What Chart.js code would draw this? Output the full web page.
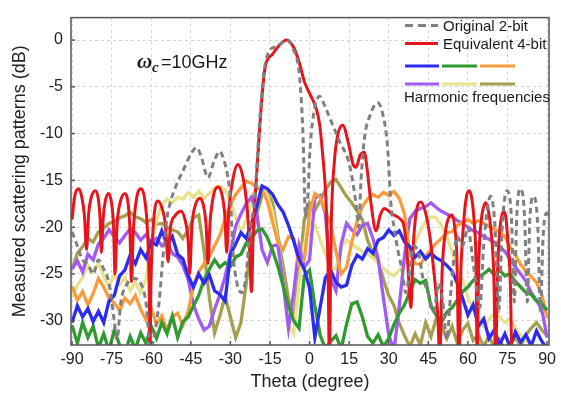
<!DOCTYPE html>
<html>
<head>
<meta charset="utf-8">
<script src="https://cdn.jsdelivr.net/npm/chart.js@4.4.0/dist/chart.umd.min.js"></script>
<style>
  html, body { margin: 0; padding: 0; background: #fff; }
</style>
</head>
<body>
<canvas id="myChart" width="561" height="397"></canvas>
<script>
    // axis ticks
    var xTicks = [-90, -75, -60, -45, -30, -15, 0, 15, 30, 45, 60, 75, 90];
    var yTicks = [0, -5, -10, -15, -20, -25, -30];

    // Original 2-bit (gray dashed)
    var grayTheta = [-90,-88,-86,-84,-82,-80,-78,-76,-74,-73,-71.5,-69,-66.5,-64,-62,-60.3,-58.5,-57,-55.5,-54,-52.8,-50.5,-48,-45,-42.8,-41,-38.5,-36,-34,-32.5,-31,-30,-29,-27.5,-25.5,-24,-22.5,-20.9,-19,-17.3,-15.1,-12.6,-10.5,-8.7,-6.5,-3.8,-2.5,-1.5,-0.5,0,1.5,3.8,6,8.2,11.3,15.1,17.6,18.6,19.5,20.8,23,25.8,27.8,29.5,30.8,32,33.5,35,36.5,37.8,39.5,41.5,43,45,47,49,50.5,52,53.5,56,58,60,61.5,63,64.5,66,68.6,70.3,71.7,73,74.8,76.5,77.6,78.5,79.9,81.5,82.5,83.5,84.9,86.5,87.5,88.5,89.8,90.7];
    var grayDb = [-20.5,-22,-23.5,-24,-25,-23.5,-24.5,-26,-30,-32,-28,-26,-25.5,-26,-28,-33,-31,-28,-23,-19,-17.4,-15.5,-14,-12.2,-11.5,-12.5,-14.7,-12.8,-11.9,-12.8,-14.6,-17,-22.7,-26,-27,-25,-20,-17.4,-9,-3.5,-1.1,-0.7,-0.3,0,-0.8,-3.9,-10,-19,-16,-12.5,-8,-6,-7.2,-8.7,-10.8,-13.3,-17.5,-20,-15,-10.5,-8,-6.7,-8,-11.2,-17.4,-20,-22.5,-24.5,-27,-25,-22,-23,-25.5,-27,-29,-26,-28,-32,-27,-21,-22,-20,-22.7,-26,-28.6,-22,-16.7,-20,-29,-20,-16.1,-19,-28,-19,-15.9,-19,-28,-19,-16.7,-20,-29,-21,-18.5,-19];

    // Equivalent 4-bit (red)
    var redTheta = [-90,-89,-87.5,-86.3,-85.3,-84.5,-83.7,-82.7,-81.2,-80.1,-79.4,-78.9,-78.2,-77.4,-76.2,-75.1,-74.3,-73.7,-73,-71.8,-69.9,-68.8,-68.1,-67.5,-66.8,-65.6,-63.8,-62.5,-61.4,-60.8,-60.5,-60.1,-59.2,-57.4,-56,-54.6,-53.6,-52.8,-51,-48.7,-47.2,-46,-45.4,-44.6,-43.2,-41.5,-40.3,-39.2,-38.5,-37.7,-36.4,-34.7,-33.3,-32.1,-31.4,-30.6,-29,-27.2,-25.6,-24,-22.9,-22,-21.3,-20.75,-18.9,-17,-14,-11.3,-8.7,-6,-3.8,-1.9,0,2.5,3.8,4.9,6.3,7,7.5,8.2,9.4,10.8,12.6,14.7,16.5,17.6,19.2,20.75,21.9,23.3,25.2,26.8,28.3,31.3,34.6,35.8,37,38.4,39.3,40.5,42.2,43.8,45.6,47.2,48.5,49.4,50.2,51.5,52.7,54.1,55,55.8,56.6,57.3,58.4,59.4,60.4,61.4,62.4,63.1,63.5,64.1,65.1,66,66.7,67.6,68.8,69.8,70.5,71.2,72.2,73,73.6,74.4,75.4,76.1,76.6];
    var redDb = [-19.2,-16.7,-15.9,-16.8,-18.8,-22.4,-18.5,-16.8,-16.1,-16.9,-19,-22.7,-19,-17.2,-16.4,-17.3,-19.8,-25,-20,-17.4,-16.4,-17.4,-20,-25.8,-20.5,-17,-15.9,-17,-20.5,-26,-34,-26,-19.8,-17.2,-17.9,-19.8,-23.7,-20.2,-18.8,-18.3,-19.2,-21.5,-25,-20,-17.6,-16.9,-17.6,-19.8,-23.9,-19.5,-16.6,-15.7,-16.4,-18.8,-22.7,-18.3,-14.8,-13.3,-14.2,-17,-21,-26.9,-20,-17.4,-9.4,-3.2,-1.5,-0.5,0,-0.8,-2.5,-4.5,-5.7,-7.3,-9,-12,-17.5,-24,-34,-20,-13,-10,-9.1,-11,-13.3,-13.6,-12.3,-12,-14,-17.5,-20.4,-18.7,-18,-18.6,-19.2,-19.9,-23,-28.6,-22,-18.3,-17.3,-18.3,-21,-25,-29,-34,-25,-20.5,-19,-18.7,-20,-23,-34,-25,-19.5,-16.8,-16.1,-16.8,-19.5,-24,-34,-24,-19.2,-17.8,-17.4,-18,-20.5,-25,-34,-25,-20,-18.6,-18.3,-19,-22.5,-26,-34];

    // harmonic frequencies, all measured on the same angle grid
    var harmTheta = [-90,-88,-86,-84,-82,-80,-78,-76,-74,-72,-70,-68,-66,-64,-62,-60,-58,-56,-54,-52,-50,-48,-46,-44,-42,-40,-38,-36,-34,-32,-30,-28,-26,-24,-22,-20,-18,-16,-14,-12,-10,-8,-6,-4,-2,0,2,4,6,8,10,12,14,16,18,20,22,24,26,28,30,32,34,36,38,40,42,44,46,48,50,52,54,56,58,60,62,64,66,68,70,72,74,76,78,80,82,84,86,88,90];
    var blueDb = [-30.2,-28.4,-29.6,-28.7,-30.1,-29.0,-30.2,-27.9,-27.3,-25.2,-24.6,-23.0,-23.9,-22.4,-23.3,-21.6,-21.9,-20.4,-21.8,-21.0,-22.9,-23.4,-25.2,-26.4,-25.0,-26.0,-25.1,-26.8,-27.2,-27.9,-22.9,-21.8,-20.6,-21.2,-19.6,-17.8,-15.6,-15.9,-16.5,-17.6,-18.4,-19.8,-21.5,-23.4,-24.5,-26.5,-31.8,-28.6,-25.4,-24.6,-25.9,-26.4,-26.2,-24.1,-23.0,-23.4,-22.3,-22.8,-21.4,-21.1,-20.3,-20.9,-20.4,-21.6,-22.1,-23.2,-22.6,-23.4,-22.8,-23.3,-23.6,-24.1,-24.7,-26.0,-27.6,-29.4,-28.3,-30.6,-29.8,-31.9,-31.0,-32.6,-31.4,-32.8,-31.2,-32.3,-31.5,-32.7,-31.1,-32.2,-33.0];
    var greenDb = [-30.5,-32.4,-30.2,-31.8,-30.6,-32.9,-31.4,-33.2,-31.0,-32.6,-33.5,-31.7,-33.0,-31.3,-32.4,-30.6,-31.9,-30.2,-31.4,-29.5,-31.8,-30.1,-29.6,-28.4,-27.3,-25.6,-24.5,-23.5,-24.3,-23.8,-24.2,-23.2,-22.9,-21.7,-21.2,-20.4,-20.2,-21.1,-22.5,-24.2,-26.3,-28.4,-30.0,-30.8,-25.2,-24.6,-28.4,-31.5,-33.0,-32.2,-31.6,-33.0,-30.4,-28.2,-28.0,-29.6,-31.7,-32.4,-31.5,-32.8,-31.9,-30.4,-29.2,-28.3,-26.9,-25.6,-26.0,-25.7,-28.5,-29.4,-30.2,-29.1,-28.6,-27.8,-26.9,-26.4,-25.7,-25.3,-25.0,-24.5,-25.1,-24.6,-25.2,-25.0,-25.8,-26.4,-27.0,-27.2,-27.9,-28.2,-28.9];
    var orangeDb = [-26.3,-27.8,-26.9,-28.3,-27.1,-25.5,-26.4,-27.6,-28.1,-28.9,-27.6,-28.2,-27.3,-28.8,-29.9,-28.7,-30.4,-29.5,-31.0,-29.6,-29.2,-30.5,-29.0,-26.2,-24.8,-23.9,-23.2,-22.0,-20.9,-19.1,-17.6,-16.5,-15.8,-15.1,-15.3,-15.8,-16.0,-17.2,-19.5,-21.6,-22.4,-21.0,-21.2,-24.0,-23.5,-18.5,-16.4,-16.8,-18.2,-19.7,-22.6,-25.0,-24.3,-21.6,-19.4,-17.8,-17.0,-16.5,-16.8,-16.3,-16.6,-16.2,-16.9,-18.6,-22.8,-23.9,-24.0,-23.1,-22.4,-21.7,-21.2,-20.6,-20.5,-19.8,-19.5,-19.2,-19.6,-19.3,-19.6,-19.9,-20.2,-20.5,-21.0,-22.1,-23.0,-24.0,-24.7,-25.3,-25.9,-27.2,-29.7];
    var purpleDb = [-24.5,-23.6,-24.8,-22.9,-23.5,-21.8,-21.2,-20.3,-21.0,-21.7,-20.9,-20.2,-20.6,-21.4,-20.8,-21.6,-21.2,-22.0,-21.7,-22.8,-23.2,-24.1,-25.6,-28.3,-29.8,-31.0,-30.6,-28.8,-27.2,-25.3,-22.8,-19.9,-18.6,-17.5,-16.8,-18.5,-22.4,-23.8,-22.0,-21.9,-26.0,-30.8,-27.0,-22.0,-24.3,-23.5,-16.9,-16.6,-18.6,-25.5,-26.8,-21.8,-19.6,-20.3,-20.8,-19.8,-19.6,-21.2,-23.4,-27.6,-31.5,-33.2,-28.4,-23.0,-19.1,-18.3,-18.0,-17.8,-17.4,-17.9,-18.3,-18.6,-18.9,-19.3,-19.6,-20.0,-20.4,-20.6,-21.0,-21.3,-21.6,-22.1,-22.6,-23.4,-24.3,-25.0,-25.8,-27.0,-27.8,-28.8,-31.8];
    var yellowDb = [-27.5,-26.2,-25.4,-24.1,-24.8,-23.9,-25.2,-26.4,-25.0,-26.1,-25.4,-26.8,-25.9,-27.0,-25.6,-22.1,-19.3,-17.6,-17.0,-17.4,-16.8,-17.0,-16.3,-16.8,-16.2,-16.9,-16.4,-15.8,-15.6,-16.0,-17.2,-19.0,-20.5,-19.2,-16.8,-15.6,-15.7,-16.6,-18.4,-21.5,-25.8,-30.5,-31.4,-26.0,-21.8,-19.6,-19.8,-21.3,-22.9,-24.3,-24.5,-22.1,-21.4,-21.8,-22.2,-22.6,-22.9,-23.3,-23.8,-24.4,-24.9,-25.2,-24.6,-23.9,-22.6,-21.7,-20.4,-19.4,-18.9,-19.0,-19.8,-21.0,-22.6,-24.3,-25.6,-27.5,-28.8,-29.7,-30.6,-29.9,-29.2,-29.6,-30.2,-29.8,-30.8,-31.6,-32.0,-32.6,-33.0,-33.2,-33.4];
    var oliveDb = [-24.5,-22.8,-22.1,-21.2,-21.6,-20.5,-20.1,-19.6,-19.4,-19.0,-18.8,-18.4,-18.9,-19.1,-19.5,-19.2,-19.7,-19.6,-20.0,-20.3,-20.5,-21.2,-20.3,-19.0,-18.7,-22.5,-27.5,-31.3,-29.5,-27.4,-29.6,-31.8,-30.2,-26.0,-21.6,-18.6,-16.6,-16.3,-17.4,-20.9,-24.2,-27.6,-29.8,-25.0,-19.2,-17.4,-18.2,-17.2,-16.0,-15.2,-14.9,-15.8,-16.7,-17.4,-18.3,-19.2,-21.4,-22.8,-23.5,-25.6,-27.3,-28.4,-30.3,-31.6,-32.8,-31.4,-32.6,-30.2,-31.7,-29.8,-30.5,-31.9,-30.6,-32.4,-31.0,-30.3,-32.1,-31.5,-32.8,-31.6,-32.9,-32.0,-33.1,-32.4,-31.8,-32.7,-31.5,-30.8,-30.2,-31.0,-31.6];

    var fontFam = '"Liberation Sans", Arial, sans-serif';
    var colBlue = '#2b2bf2', colGreen = '#2f9a2f', colOrange = '#f89c3c';
    var colPurple = '#a35af0', colYellow = '#e8e28c', colOlive = '#a4a050';

    function pts(xs, ys) {
        return xs.map(function (x, i) { return {x: x, y: ys[i]}; });
    }
    function harm(label, ys, color) {
        return {label: label, data: pts(harmTheta, ys), borderColor: color, borderWidth: 3.3,
                pointRadius: 0, tension: 0, fill: false};
    }

    // frame, inward ticks, legend and the frequency note
    var decor = {
        id: 'decor',
        afterDraw: function (chart) {
            var c = chart.ctx, a = chart.chartArea;
            var sx = chart.scales.x, sy = chart.scales.y;
            c.save();
            c.strokeStyle = '#555';
            c.lineWidth = 1.5;
            xTicks.forEach(function (v) {
                var px = sx.getPixelForValue(v);
                c.beginPath(); c.moveTo(px, a.bottom); c.lineTo(px, a.bottom - 4); c.stroke();
            });
            yTicks.forEach(function (v) {
                var py = sy.getPixelForValue(v);
                c.beginPath(); c.moveTo(a.left, py); c.lineTo(a.left + 4, py); c.stroke();
            });
            c.strokeRect(a.left, a.top, a.right - a.left, a.bottom - a.top);

            function seg(x1, x2, y, color, dash) {
                c.beginPath();
                c.setLineDash(dash || []);
                c.strokeStyle = color;
                c.lineWidth = 3;
                c.moveTo(x1, y); c.lineTo(x2, y); c.stroke();
                c.setLineDash([]);
            }
            seg(405, 438, 25.5, '#808080', [8, 5]);
            seg(405, 438, 43.5, '#e8141c');
            seg(405, 439, 66, colBlue);
            seg(442, 477, 66, colGreen);
            seg(480, 515, 66, colOrange);
            seg(405, 439, 84, colPurple);
            seg(442, 477, 84, colYellow);
            seg(480, 515, 84, colOlive);

            c.fillStyle = '#1a1a1a';
            c.textBaseline = 'alphabetic';
            c.textAlign = 'left';
            c.font = '15px ' + fontFam;
            c.fillText('Original 2-bit', 443, 31);
            c.fillText('Equivalent 4-bit', 443, 49);
            c.fillText('Harmonic frequencies', 404, 102);

            c.font = 'bold italic 21px "Liberation Serif", serif';
            c.fillText('\u03c9', 137, 68);
            c.font = 'bold italic 15px "Liberation Serif", serif';
            c.fillText('c', 152, 72);
            c.font = '18px ' + fontFam;
            c.fillText('=10GHz', 161, 68);
            c.restore();
        }
    };

    var ctx = document.getElementById('myChart').getContext('2d');
    var chart = new Chart(ctx, {
        type: 'line',
        data: {
            datasets: [
                {label: 'Original 2-bit', data: pts(grayTheta, grayDb), borderColor: '#808080',
                 borderWidth: 3, borderDash: [6, 4], pointRadius: 0, cubicInterpolationMode: 'monotone', fill: false},
                {label: 'Equivalent 4-bit', data: pts(redTheta, redDb), borderColor: '#e8141c',
                 borderWidth: 3, pointRadius: 0, cubicInterpolationMode: 'monotone', fill: false},
                harm('H1', blueDb, colBlue),
                harm('H2', greenDb, colGreen),
                harm('H3', orangeDb, colOrange),
                harm('H4', purpleDb, colPurple),
                harm('H5', yellowDb, colYellow),
                harm('H6', oliveDb, colOlive)
            ]
        },
        options: {
            responsive: false,
            animation: false,
            layout: {padding: {top: 10, right: 10, left: 0, bottom: 0}},
            plugins: {legend: {display: false}, tooltip: {enabled: false}},
            scales: {
                x: {
                    type: 'linear', min: -90.4, max: 90.75,
                    afterBuildTicks: function (s) { s.ticks = xTicks.map(function (v) { return {value: v}; }); },
                    afterFit: function (s) { s.height = 52; },
                    grid: {color: '#d4d4d4', drawTicks: false},
                    border: {display: false, dash: [3, 3]},
                    ticks: {font: {family: fontFam, size: 16}, color: '#222', padding: 5, maxRotation: 0},
                    title: {display: true, text: 'Theta (degree)', color: '#222',
                            font: {family: fontFam, size: 18}, padding: {top: 0, bottom: 4}}
                },
                y: {
                    type: 'linear', min: -32.6, max: 2.4,
                    afterBuildTicks: function (s) { s.ticks = yTicks.map(function (v) { return {value: v}; }); },
                    afterFit: function (s) { s.width = 71; },
                    grid: {color: '#d4d4d4', drawTicks: false},
                    border: {display: false, dash: [3, 3]},
                    ticks: {font: {family: fontFam, size: 16}, color: '#222', padding: 8},
                    title: {display: true, text: 'Measured scattering patterns (dB)', color: '#222',
                            font: {family: fontFam, size: 18}, padding: {top: 9, bottom: 0}}
                }
            }
        },
        plugins: [decor]
    });
</script>
</body>
</html>
